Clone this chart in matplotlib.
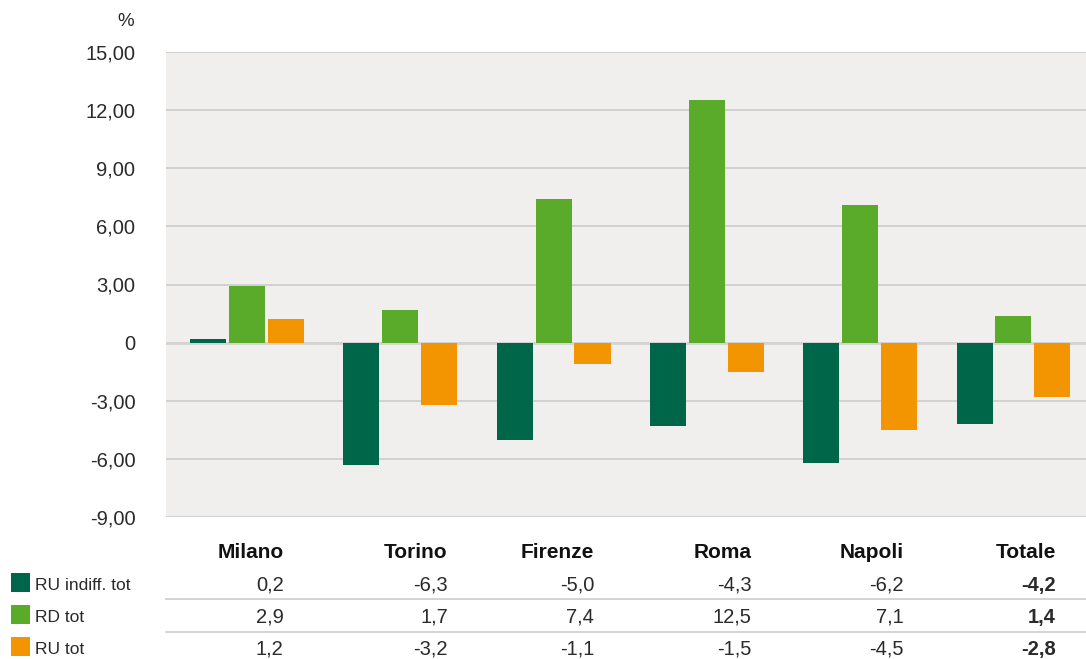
import matplotlib.pyplot as plt
import matplotlib.transforms as mtransforms
from matplotlib.lines import Line2D
from matplotlib.patches import Rectangle
import numpy as np

plt.rcParams['font.family'] = ['Liberation Sans', 'DejaVu Sans']

cities = ["Milano", "Torino", "Firenze", "Roma", "Napoli", "Totale"]
series_names = ["RU indiff. tot", "RD tot", "RU tot"]
ru_indiff = [0.2, -6.3, -5.0, -4.3, -6.2, -4.2]
rd_tot = [2.9, 1.7, 7.4, 12.5, 7.1, 1.4]
ru_tot = [1.2, -3.2, -1.1, -1.5, -4.5, -2.8]
yticks = [15, 12, 9, 6, 3, 0, -3, -6, -9]
colors = ["#00664a", "#5aab29", "#f39500"]

W, H = 1086, 659
fig = plt.figure(figsize=(W / 100, H / 100), dpi=100)
ax = fig.add_axes([166 / W, (H - 517) / H, 920 / W, 465 / H])
ax.set_facecolor("#f0efed")

x = np.arange(len(cities))
bw = 0.235
step = 0.254
for k, vals in enumerate([ru_indiff, rd_tot, ru_tot]):
    ax.bar(x + (k - 1) * step, vals, width=bw, color=colors[k], zorder=3)

ax.set_xlim(-0.528, 5.473)
ax.set_ylim(-9, 15)
ax.set_yticks(yticks)
ax.set_yticklabels(["0" if v == 0 else f"{v:.2f}".replace(".", ",") for v in yticks],
                   fontsize=14.5, color="#2a2a2a")
ax.set_xticks([])
ax.tick_params(axis="y", length=0, pad=22)
ax.grid(axis="y", color="#cccccc", lw=1.2, zorder=1)
ax.axhline(0, color="#d4d4d4", lw=2, zorder=2)
for s in ax.spines.values():
    s.set_visible(False)

fig.text(126 / W, 1 - 22 / H, "%", fontsize=13.5, ha="center", va="center", color="#2a2a2a")

# table under the chart
tr = mtransforms.blended_transform_factory(ax.transData, fig.transFigure)
offs = [0.24, 0.31, 0.265, 0.29, 0.285, 0.277]
for i, c in enumerate(cities):
    ax.text(i + offs[i], 1 - 552 / H, c, transform=tr, ha="right", va="center",
            fontsize=15, fontweight="bold", color="#111111", clip_on=False)
rows_y = [585, 617, 649]
for r, vals in enumerate([ru_indiff, rd_tot, ru_tot]):
    for i, v in enumerate(vals):
        bold = cities[i] == "Totale"
        ax.text(i + offs[i], 1 - rows_y[r] / H, f"{v:.1f}".replace(".", ","), transform=tr,
                ha="right", va="center", fontsize=14.5,
                fontweight="bold" if bold else "normal", color="#2a2a2a", clip_on=False)
    fig.add_artist(Rectangle((11 / W, 1 - (rows_y[r] + 7) / H), 19 / W, 19 / H,
                             transform=fig.transFigure, color=colors[r], lw=0))
    fig.text(35 / W, 1 - rows_y[r] / H, series_names[r], fontsize=12.5,
             ha="left", va="center", color="#2a2a2a")

for yy in [599, 632]:
    fig.add_artist(Line2D([166 / W, 1], [1 - yy / H, 1 - yy / H],
                          transform=fig.transFigure, color="#cccccc", lw=1.2))

fig.savefig("out.png", dpi=100)
